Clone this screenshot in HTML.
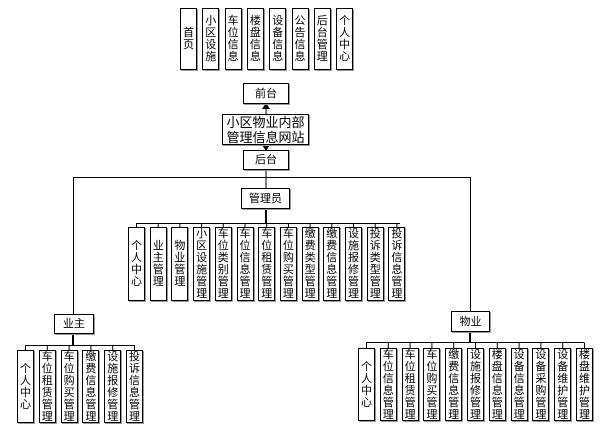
<!DOCTYPE html>
<html><head><meta charset="utf-8"><style>
body{margin:0;background:#fff;width:600px;height:432px;position:relative;overflow:hidden;font-family:"Liberation Sans","Noto Sans CJK SC",sans-serif;}
.b{position:absolute;border:1px solid #000;box-sizing:border-box;box-shadow:1px 1px 0 #999;display:flex;align-items:center;justify-content:center;text-align:center;font-size:11px;line-height:12px;color:#000;}
.v{width:17px;word-break:break-all;padding:0 2px;}
.l{position:absolute;background:#000;}
</style></head><body>
<svg width="600" height="432" style="position:absolute;left:0;top:0">
<g stroke="#000" stroke-width="1" fill="none">
<line x1="266" y1="114" x2="266" y2="108"/>
<line x1="266" y1="145" x2="266" y2="146"/>
<line x1="266" y1="170" x2="266" y2="188"/>
<line x1="73.5" y1="177.5" x2="470.5" y2="177.5"/>
<line x1="73.5" y1="177" x2="73.5" y2="314"/>
<line x1="470.5" y1="177" x2="470.5" y2="311"/>
<line x1="266" y1="209" x2="266" y2="223" stroke-width="2"/>
<line x1="136" y1="223.5" x2="400" y2="223.5"/>
<line x1="73" y1="334" x2="73" y2="345" stroke-width="2"/>
<line x1="25" y1="345.5" x2="135" y2="345.5"/>
<line x1="470" y1="332" x2="470" y2="342" stroke-width="2"/>
<line x1="366" y1="342.5" x2="584" y2="342.5"/>
</g>
<polygon points="262,109 270,109 266,103" fill="#000"/>
<polygon points="262,145 270,145 266,151" fill="#000"/>
<g id="ticks" stroke="#000" stroke-width="1"></g>
</svg>
<div class="b" style="left:243px;top:83px;width:46px;height:21px">前台</div>
<div class="b" style="left:222px;top:114px;width:87px;height:31px;font-size:13px;line-height:15px">小区物业内部<br>管理信息网站</div>
<div class="b" style="left:243px;top:150px;width:46px;height:20px">后台</div>
<div class="b" style="left:241px;top:188px;width:49px;height:21px">管理员</div>
<div class="b" style="left:54px;top:314px;width:40px;height:20px">业主</div>
<div class="b" style="left:451px;top:311px;width:39px;height:21px">物业</div>
<div id="c"></div>
<script>
var c=document.getElementById('c'),t=document.getElementById('ticks');
function row(x0,dx,y,h,arr,ly){arr.forEach(function(s,i){var x=x0+i*dx;var d=document.createElement('div');d.className='b v';d.style.left=x+'px';d.style.top=y+'px';d.style.height=h+'px';d.textContent=s;c.appendChild(d);if(ly!=null){var l=document.createElementNS('http://www.w3.org/2000/svg','line');l.setAttribute('x1',x+8.5);l.setAttribute('x2',x+8.5);l.setAttribute('y1',ly);l.setAttribute('y2',y);t.appendChild(l);}});}
row(180,22.3,8,62,['首页','小区设施','车位信息','楼盘信息','设备信息','公告信息','后台管理','个人中心'],null);
row(128,21.7,227,74,['个人中心','业主管理','物业管理','小区设施管理','车位类别管理','车位信息管理','车位租赁管理','车位购买管理','缴费类型管理','缴费信息管理','设施报修管理','投诉类型管理','投诉信息管理'],223.5);
row(17,21.8,350,73,['个人中心','车位租赁管理','车位购买管理','缴费信息管理','设施报修管理','投诉信息管理'],345.5);
row(358,21.8,348,73,['个人中心','车位信息管理','车位租赁管理','车位购买管理','缴费信息管理','设施报修管理','楼盘信息管理','设备信息管理','设备采购管理','设备维护管理','楼盘维护管理'],342.5);
</script>
</body></html>
